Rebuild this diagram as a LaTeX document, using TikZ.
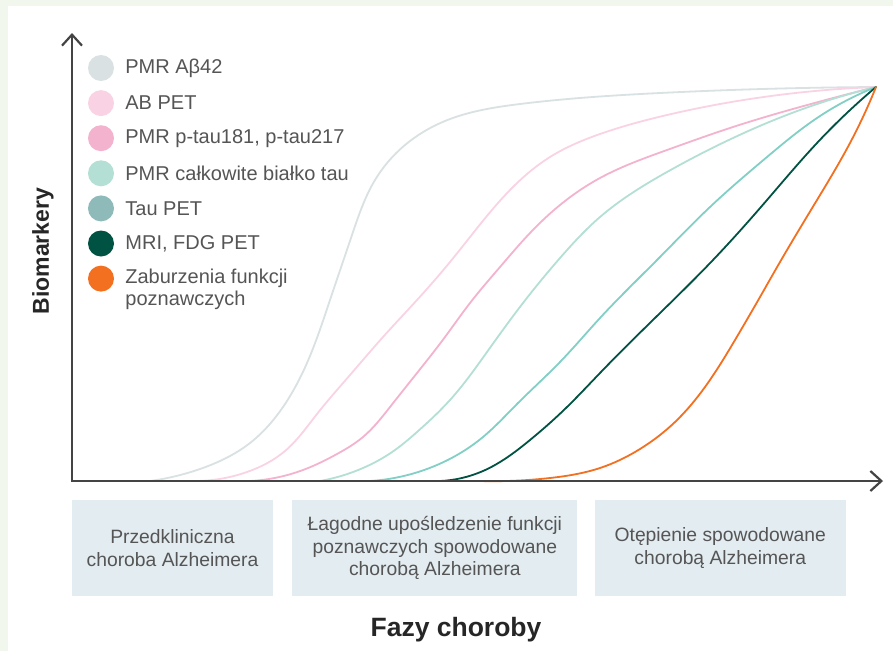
\documentclass[tikz,border=0pt]{standalone}
\usepackage{fontspec}
\setmainfont{Liberation Sans}
\usepackage{tikz}
\usetikzlibrary{hobby}
\usetikzlibrary{positioning}
\usetikzlibrary{arrows.meta}
\definecolor{frame}{HTML}{F2F7EE}
\definecolor{axisgray}{HTML}{444444}
\definecolor{textgray}{HTML}{555555}
\definecolor{boxblue}{HTML}{E3ECF0}
\definecolor{amyloid}{HTML}{D9E1E3}
\definecolor{abpet}{HTML}{F9D3E4}
\definecolor{ptau}{HTML}{F3B3CF}
\definecolor{totaltau}{HTML}{B3DFD4}
\definecolor{taupet}{HTML}{8EBBB9}
\definecolor{taucurve}{HTML}{82CFC6}
\definecolor{mri}{HTML}{005242}
\definecolor{cognition}{HTML}{F37021}

\begin{document}
\begin{tikzpicture}[
x=1pt, y=-1pt,
dot/.style={circle, minimum size=26pt, inner sep=0},
entry/.style={font=\fontsize{20}{22}\selectfont, text=textgray, inner sep=0, align=left},
phase/.style={fill=boxblue, minimum height=96pt, inner sep=0, font=\fontsize{19.3}{22.5}\selectfont, text=textgray, align=center},
curve/.style={line width=1.8pt, line cap=round, use Hobby shortcut},
axis/.style={draw=axisgray, line width=2.2pt, line join=miter},
>={Straight Barb[length=11pt, width=20pt]}
]
\fill[frame] (0,0) rectangle (893,651);
\fill[white] (8,6) rectangle (893,651);
\useasboundingbox (0,0) rectangle (893,651);

\coordinate (o) at (72,481);
\coordinate (ytip) at (72,33);
\coordinate (xtip) at (883,481);
\coordinate (top) at (876,87);

% curves
\draw[curve, amyloid] (150,481) .. (200,469) .. (250,443) .. (283,407) .. (307,363) .. (330,300) .. (352,235) .. (375,180) .. (405,145) .. (445,121) .. (520,104) .. (660,93) .. (top);
\draw[curve, abpet] (195,481) .. (247,472) .. (285,451) .. (317,414) .. (350,375) .. (383,337) .. (417,300) .. (450,262) .. (482,222) .. (515,185) .. (550,157) .. (600,134) .. (667,115) .. (750,99) .. (top);
\draw[curve, ptau] (250,481) .. (303,470) .. (337,454) .. (363,437) .. (390,407) .. (417,373) .. (445,337) .. (470,303) .. (500,267) .. (530,233) .. (560,205) .. (600,178) .. (667,150) .. (733,127) .. (800,107) .. (top);
\draw[curve, totaltau] (320,481) .. (363,468) .. (395,450) .. (417,432) .. (450,400) .. (487,352) .. (523,303) .. (560,258) .. (600,217) .. (667,172) .. (733,138) .. (800,110) .. (top);
\draw[curve, taucurve] (370,481) .. (437,465) .. (483,437) .. (517,404) .. (560,362) .. (600,318) .. (657,260) .. (710,207) .. (767,157) .. (817,118) .. (top);
\draw[curve, mri] (440,481) .. (483,471) .. (530,440) .. (567,407) .. (600,373) .. (657,316) .. (713,260) .. (767,200) .. (817,143) .. (top);
\draw[curve, cognition] (480,481) .. (550,478) .. (600,468) .. (640,449) .. (675,422) .. (705,387) .. (735,340) .. (760,297) .. (780,262) .. (817,200) .. (850,143) .. (top);

% axes
\draw[axis, <->] (ytip) -- (o) -- (xtip);
\node[rotate=90, font=\bfseries\fontsize{23}{26}\selectfont, text=black!85] (ylab) at (43,251) {Biomarkery};
\node[font=\bfseries\fontsize{26.5}{30}\selectfont, text=black!85] (xlab) at (456,630) {Fazy choroby};

% legend
\node[dot, fill=amyloid] (d1) at (101,68) {};
\node[dot, fill=abpet, below=8.7pt of d1] (d2) {};
\node[dot, fill=ptau, below=8.7pt of d2] (d3) {};
\node[dot, fill=totaltau, below=8.7pt of d3] (d4) {};
\node[dot, fill=taupet, below=8.7pt of d4] (d5) {};
\node[dot, fill=mri, below=8.7pt of d5] (d6) {};
\node[dot, fill=cognition, below=8.7pt of d6] (d7) {};
\node[entry, right=11pt of d1] (t1) {PMR Aβ42};
\node[entry, right=11pt of d2] (t2) {AB PET};
\node[entry, right=11pt of d3] (t3) {PMR p-tau181, p-tau217};
\node[entry, right=11pt of d4] (t4) {PMR całkowite białko tau};
\node[entry, right=11pt of d5] (t5) {Tau PET};
\node[entry, right=11pt of d6] (t6) {MRI, FDG PET};
\node[entry, right=11pt of d7, yshift=-11pt] (t7) {Zaburzenia funkcji\\poznawczych};

% phases
\node[phase, minimum width=201pt] (p1) at (172.5,548) {Przedkliniczna\\choroba Alzheimera};
\node[phase, minimum width=285pt, right=19pt of p1] (p2) {Łagodne upośledzenie funkcji\\poznawczych spowodowane\\chorobą Alzheimera};
\node[phase, minimum width=251pt, right=17pt of p2] (p3) {Otępienie spowodowane\\chorobą Alzheimera};
\end{tikzpicture}
\end{document}
